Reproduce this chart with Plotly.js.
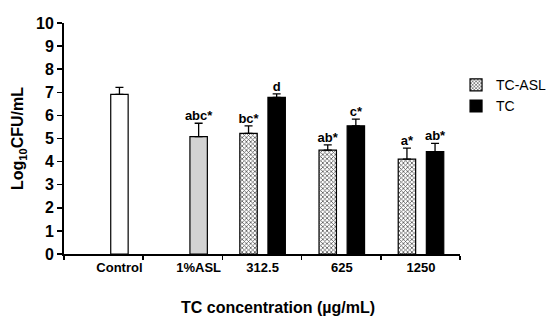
<!DOCTYPE html>
<html>
<head>
<meta charset="utf-8">
<script src="https://cdn.plot.ly/plotly-3.0.1.min.js"></script>
<style>html,body{margin:0;padding:0;background:#fff;}#chart{width:550px;height:327px;}</style>
</head>
<body>
<div id="chart"></div>
<script>
// ---- data ----
const categories = ['Control', '1%ASL', '312.5', '625', '1250'];
const controlVals = [6.91, 5.08, null, null, null];
const controlErr  = [0.30, 0.58, null, null, null];
const controlColors = ['#ffffff', '#d3d3d3', '#ffffff', '#ffffff', '#ffffff'];
const tcAslVals = [null, null, 5.22, 4.50, 4.11];
const tcAslErr  = [null, null, 0.33, 0.22, 0.47];
const tcVals    = [null, null, 6.78, 5.55, 4.43];
const tcErr     = [null, null, 0.15, 0.29, 0.36];
const controlLabels = ['', 'abc*', '', '', ''];
const tcAslLabels = ['', '', 'bc*', 'ab*', 'a*'];
const tcLabels    = ['', '', 'd', 'c*', 'ab*'];

// ---- layout helpers ----
const xIdx = categories.map((c, i) => i);
const W = 0.22;
const offCtrl = 0.09, offAsl = -0.28, offTc = 0.075;

function centers(off) { return xIdx.map(i => i + off + W / 2); }
function tops(vals, errs) { return vals.map((v, i) => v == null ? null : v + (errs[i] || 0)); }

const labelPos = xIdx.map(i => (tcAslVals[i] == null && tcVals[i] == null)
  ? i + offCtrl + W / 2
  : i + (offAsl + offTc + W) / 2);
const boundaries = [];
for (let i = 0; i <= categories.length; i++) boundaries.push(i - 0.5);

const errStyle = (arr) => ({type: 'data', array: arr, arrayminus: arr.map(() => 0), symmetric: false,
  color: '#000', thickness: 1.3, width: 4});
const lineStyle = {color: '#000', width: 1.2};

const traces = [
  {type: 'bar', x: xIdx, y: controlVals, offset: offCtrl, width: W, showlegend: false,
   marker: {color: controlColors, line: lineStyle}, error_y: errStyle(controlErr), hoverinfo: 'skip'},
  {type: 'bar', name: 'TC-ASL', x: xIdx, y: tcAslVals, offset: offAsl, width: W,
   marker: {color: '#ffffff', line: lineStyle, pattern: {shape: 'x', size: 3, solidity: 0.45, fgcolor: '#555', bgcolor: '#fff'}},
   error_y: errStyle(tcAslErr)},
  {type: 'bar', name: 'TC', x: xIdx, y: tcVals, offset: offTc, width: W,
   marker: {color: '#000000', line: lineStyle}, error_y: errStyle(tcErr)},
  {type: 'scatter', mode: 'text', showlegend: false, cliponaxis: false, hoverinfo: 'skip',
   x: centers(offCtrl).concat(centers(offAsl), centers(offTc)),
   y: tops(controlVals, controlErr).concat(tops(tcAslVals, tcAslErr), tops(tcVals, tcErr)),
   text: controlLabels.concat(tcAslLabels, tcLabels),
   textposition: 'top center',
   textfont: {family: 'Liberation Sans, Arial, sans-serif', size: 13, color: '#000', weight: 'bold'}}
];

const layout = {
  width: 550, height: 327,
  margin: {l: 64, r: 90, t: 23, b: 73, autoexpand: false},
  paper_bgcolor: '#fff', plot_bgcolor: '#fff',
  barmode: 'overlay',
  font: {family: 'Liberation Sans, Arial, sans-serif', color: '#000'},
  xaxis: {
    range: [-0.5, 4.5], tickmode: 'array', tickvals: labelPos, ticktext: categories,
    ticks: '', showgrid: false, zeroline: false, showline: true, linecolor: '#000', linewidth: 2,
    tickfont: {size: 13, weight: 'bold'}, automargin: false,
    minor: {tickmode: 'array', tickvals: boundaries, ticks: 'outside', ticklen: 4, tickwidth: 1.5, tickcolor: '#000', showgrid: false}
  },
  yaxis: {
    range: [0, 10], dtick: 1, ticks: 'outside', ticklen: 5, tickwidth: 1.5, tickcolor: '#000',
    showgrid: false, zeroline: false, showline: true, linecolor: '#000', linewidth: 2,
    tickfont: {size: 16, weight: 'bold'}, automargin: false,
    title: {text: 'Log<sub>10</sub>CFU/mL', font: {size: 16, weight: 'bold'}, standoff: 8}
  },
  legend: {x: 0.99, y: 0.80, xanchor: 'left', yanchor: 'top', font: {size: 14}, tracegroupgap: 9,
           itemwidth: 30, bgcolor: 'rgba(0,0,0,0)'},
  annotations: [{text: 'TC concentration (µg/mL)', xref: 'paper', yref: 'paper', x: 0.54, y: -0.185,
                 xanchor: 'center', yanchor: 'top', showarrow: false, font: {size: 16, weight: 'bold'}}]
};

Plotly.newPlot('chart', traces, layout, {displayModeBar: false, staticPlot: true});
</script>
</body>
</html>
